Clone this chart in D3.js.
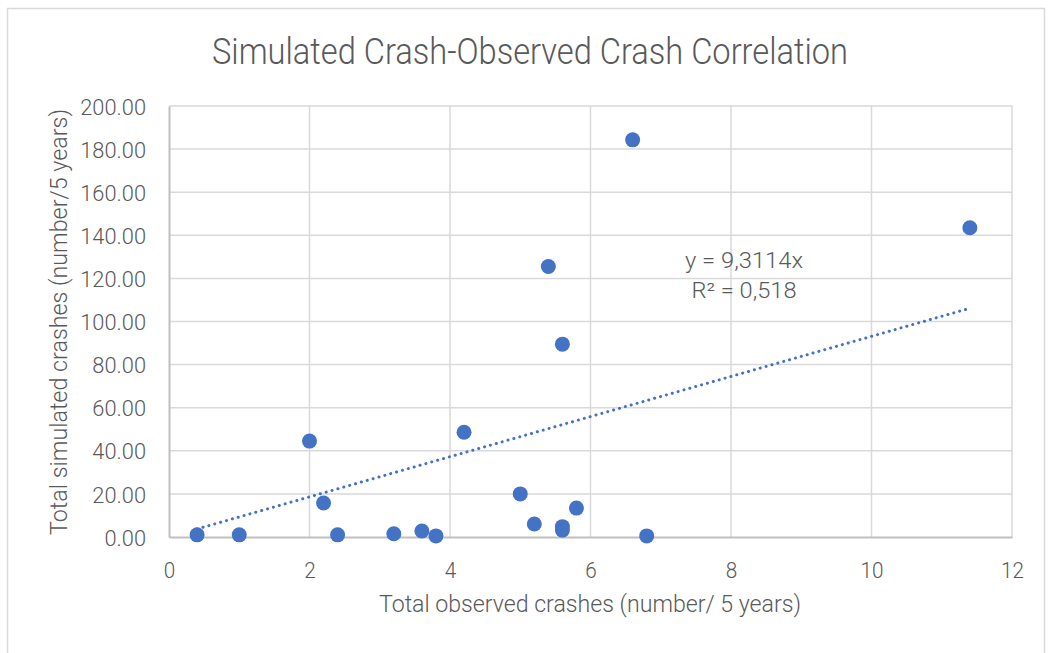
<!DOCTYPE html>
<html><head><meta charset="utf-8">
<script src="https://cdn.jsdelivr.net/npm/d3@7"></script>
<style>
html,body{margin:0;padding:0;background:#fff;}
text{font-family:Roboto,"Liberation Sans",sans-serif;font-weight:300;fill:#595959;}
</style></head><body>
<svg id="chart" width="1048" height="653"></svg>
<script>
const obsX = [0.4, 1.0, 2.0, 2.2, 2.4, 3.2, 3.6, 3.8, 4.2, 5.0, 5.2, 5.4, 5.6, 5.6, 5.6, 5.8, 6.6, 6.8, 11.4];
const simY = [1.0, 1.0, 44.5, 15.8, 1.0, 1.5, 2.8, 0.5, 48.6, 20.0, 6.0, 125.5, 89.5, 4.8, 3.2, 13.4, 184.3, 0.5, 143.5];
const xTicks = [0, 2, 4, 6, 8, 10, 12];
const yTicks = [0, 20, 40, 60, 80, 100, 120, 140, 160, 180, 200];
const slope = 9.3114;
const eqLabels = ["y = 9,3114x", "R² = 0,518"];
const titleText = "Simulated Crash-Observed Crash Correlation";
const xTitle = "Total observed crashes (number/ 5 years)";
const yTitle = "Total simulated crashes (number/5 years)";

const svg = d3.select("#chart");
const L = 169, R = 1012, T = 106, B = 537;
const x = d3.scaleLinear().domain([0, 12]).range([L, R]);
const y = d3.scaleLinear().domain([0, 200]).range([B, T]);

function condense(sel, f) {
  sel.each(function () {
    const w = this.getComputedTextLength();
    d3.select(this).attr("textLength", w * f).attr("lengthAdjust", "spacingAndGlyphs");
  });
}

// outer border
svg.append("rect").attr("x", 7.5).attr("y", 8.5).attr("width", 1037).attr("height", 660)
  .attr("fill", "none").attr("stroke", "#d9d9d9").attr("stroke-width", 1.5);

// gridlines
svg.append("g").selectAll("line.h").data(yTicks.filter(d => d > 0)).join("line")
  .attr("x1", L).attr("x2", R).attr("y1", d => y(d)).attr("y2", d => y(d))
  .attr("stroke", "#d9d9d9").attr("stroke-width", 1.5);
svg.append("g").selectAll("line.v").data(xTicks.filter(d => d > 0)).join("line")
  .attr("y1", T).attr("y2", B).attr("x1", d => x(d)).attr("x2", d => x(d))
  .attr("stroke", "#d9d9d9").attr("stroke-width", 1.5);

// axes
const xAxis = svg.append("g").attr("transform", `translate(0,${B})`)
  .call(d3.axisBottom(x).tickValues(xTicks).tickSize(0).tickPadding(25).tickFormat(d3.format("d")));
const yAxis = svg.append("g").attr("transform", `translate(${L},0)`)
  .call(d3.axisLeft(y).tickValues(yTicks).tickSize(0).tickPadding(23).tickFormat(d3.format(".2f")));
[xAxis, yAxis].forEach(a => {
  a.select(".domain").attr("stroke", "#bfbfbf").attr("stroke-width", 2);
  a.selectAll("text").style("font-size", "22.5px").style("font-family", "Roboto").style("font-weight", 300).attr("fill", "#595959");
});
yAxis.selectAll("text").attr("dy", "0.36em");
condense(yAxis.selectAll("text"), 0.97);
condense(xAxis.selectAll("text"), 0.92);

// trendline
const xMin = d3.min(obsX), xMax = d3.max(obsX);
svg.append("line")
  .attr("x1", x(xMin)).attr("y1", y(slope * xMin))
  .attr("x2", x(xMax)).attr("y2", y(slope * xMax))
  .attr("stroke", "#4472C4").attr("stroke-width", 3)
  .attr("stroke-dasharray", "0.1 6").attr("stroke-linecap", "round");

// points
svg.append("g").selectAll("circle").data(obsX.map((d, i) => [d, simY[i]])).join("circle")
  .attr("cx", d => x(d[0])).attr("cy", d => y(d[1])).attr("r", 7.5)
  .attr("fill", "#4472C4");

// equation
const eqW = [118, 105];
svg.append("g").selectAll("text").data(eqLabels).join("text")
  .attr("x", 744).attr("y", (d, i) => 268 + i * 30)
  .attr("text-anchor", "middle").style("font-size", "21.5px")
  .attr("textLength", (d, i) => eqW[i]).attr("lengthAdjust", "spacingAndGlyphs").text(d => d);

// titles
svg.append("text").attr("x", 530).attr("y", 64).attr("text-anchor", "middle")
  .style("font-size", "37px").attr("textLength", 636).attr("lengthAdjust", "spacingAndGlyphs").text(titleText);
svg.append("text").attr("x", 590).attr("y", 612).attr("text-anchor", "middle")
  .style("font-size", "24px").attr("textLength", 422).attr("lengthAdjust", "spacingAndGlyphs").text(xTitle);
svg.append("text").attr("transform", "translate(67,322) rotate(-90)").attr("text-anchor", "middle")
  .style("font-size", "24px").attr("textLength", 426).attr("lengthAdjust", "spacingAndGlyphs").text(yTitle);
</script>
</body></html>
